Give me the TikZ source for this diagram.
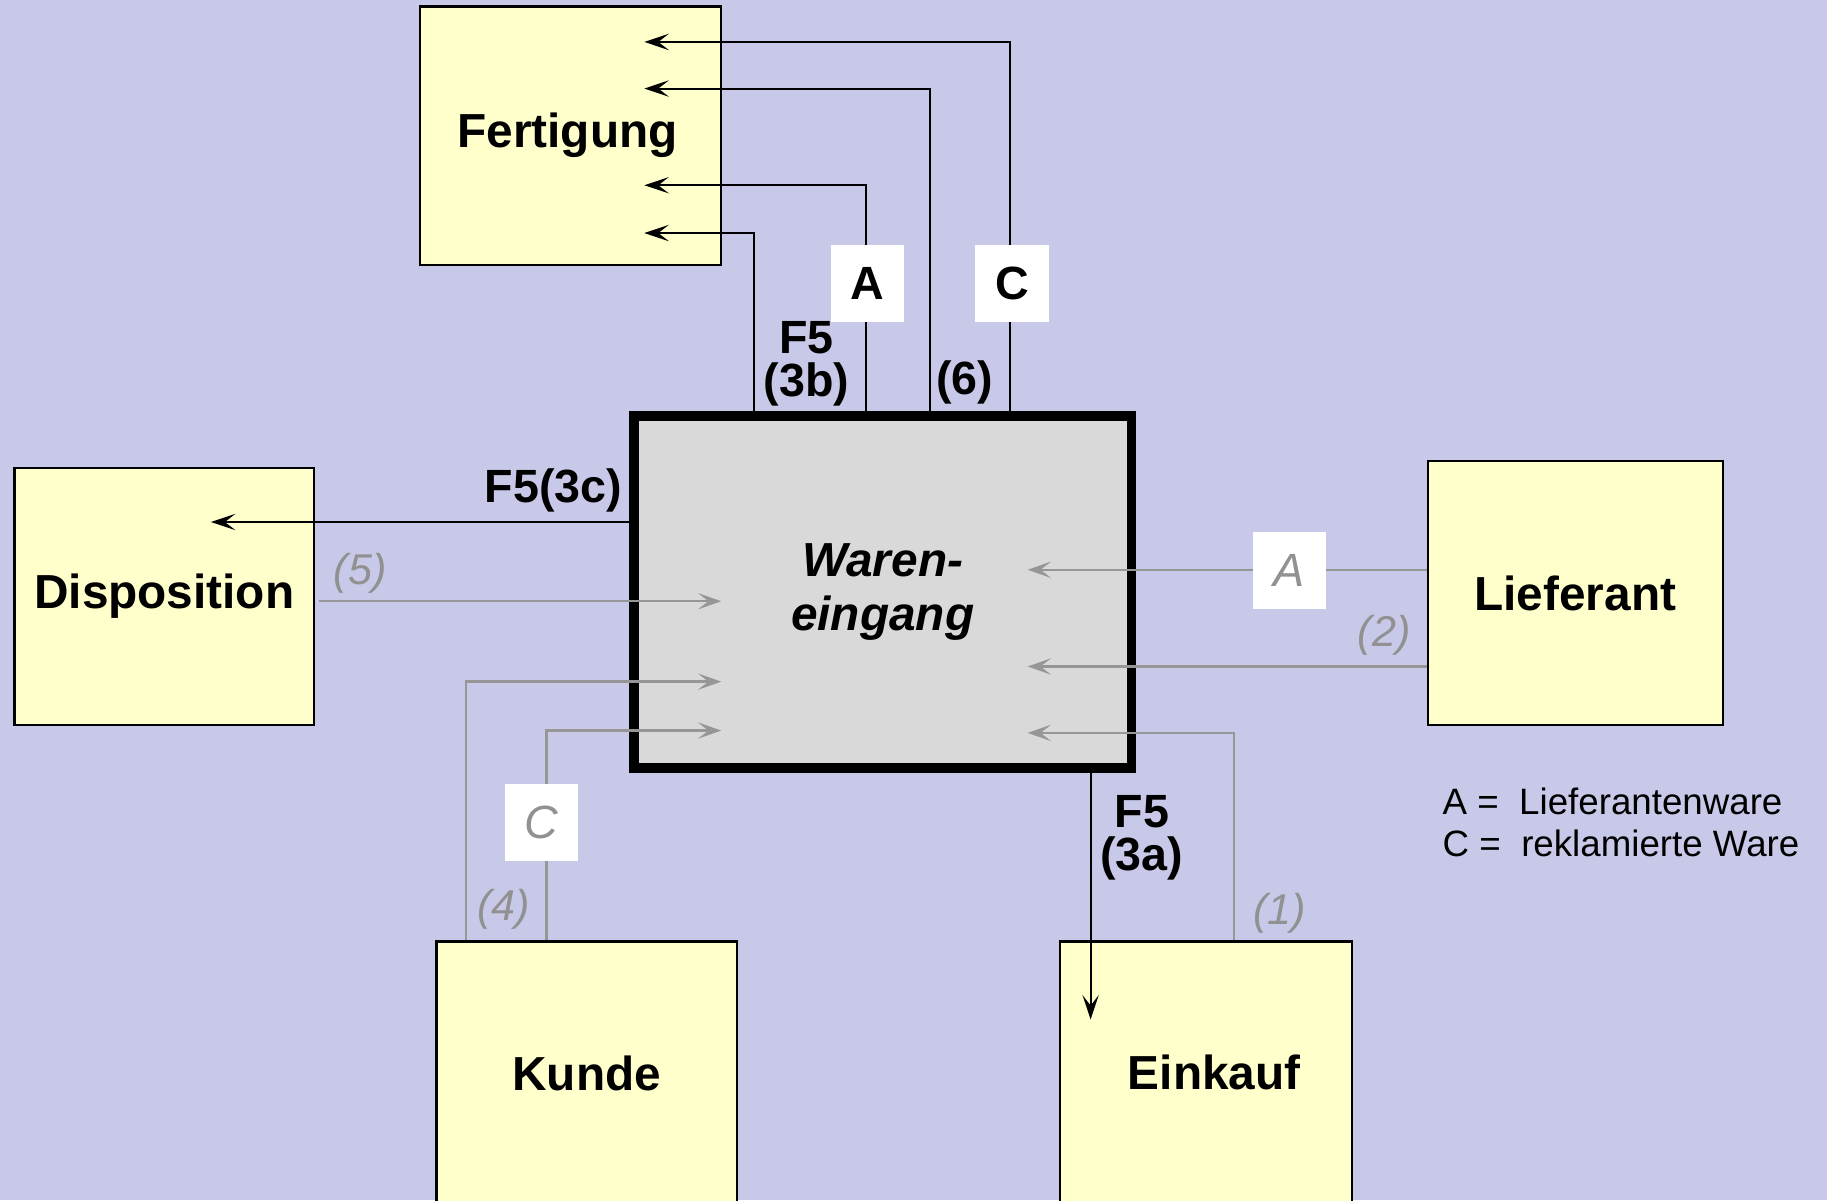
\documentclass[tikz,border=0pt]{standalone}
\usepackage{fontspec}
\setmainfont{Liberation Sans}
\usetikzlibrary{arrows.meta}
\definecolor{bg}{RGB}{200,201,232}
\definecolor{boxy}{RGB}{255,255,204}
\definecolor{wgray}{RGB}{217,217,217}
\definecolor{lg}{RGB}{150,150,150}
\definecolor{lgt}{RGB}{145,145,145}
\begin{document}
\begin{tikzpicture}[x=1pt,y=-1pt,
  box/.style={draw=black,line width=2pt,fill=boxy,inner sep=0pt,
    font=\fontsize{41}{46}\selectfont\bfseries},
  blk/.style={draw=black,line width=1.8pt,-{Stealth[length=21pt,width=14pt,inset=9pt]}},
  gry/.style={draw=lg,line width=2pt,-{Stealth[length=20pt,width=14pt,inset=9pt]}},
  lab/.style={inner sep=0pt,align=center,font=\fontsize{40}{37}\selectfont\bfseries},
  glab/.style={inner sep=0pt,text=lgt,font=\fontsize{37}{40}\selectfont\itshape},
  tag/.style={fill=white,inner sep=0pt,minimum width=63pt,minimum height=66pt}]
\clip (0,0) rectangle (1568,1030);
\fill[bg] (0,0) rectangle (1568,1030);

% boxes
\node[box,minimum width=258pt,minimum height=222pt] (fert) at (489.5,116.5) {};
\node[inner sep=0pt,font=\fontsize{41}{46}\selectfont\bfseries] (fertt) at (487,116.5) {Fertigung};
\node[box,minimum width=257pt,minimum height=221pt] (disp) at (141,512) {Disposition};
\node[box,minimum width=253pt,minimum height=227pt] (lief) at (1352,509) {Lieferant};
\node[box,minimum width=258pt,minimum height=226pt] (kunde) at (503.5,921) {Kunde};
\node[box,minimum width=251pt,minimum height=226pt] (eink) at (1035,921) {};
\node[inner sep=0pt,font=\fontsize{41}{46}\selectfont\bfseries] (einkt) at (1042,920) {Einkauf};
\node[draw=black,line width=8pt,fill=wgray,minimum width=427pt,minimum height=302pt,
  align=center,font=\fontsize{41}{47}\selectfont\bfseries\itshape] (waren) at (757.5,508) {Waren-\\eingang};

% helper coordinates
\coordinate (c647) at (647,0);
\coordinate (c743) at (743,0);
\coordinate (c798) at (798,0);
\coordinate (c867) at (867,0);
\coordinate (c936) at (936,0);
\coordinate (c400) at (400,0);
\coordinate (c469) at (469,0);
\coordinate (c1059) at (1059,0);
\coordinate (t1) at (553,200);
\coordinate (t2) at (553,159);
\coordinate (t3) at (553,76);
\coordinate (t4) at (553,36);
\coordinate (t5) at (181,448);
\coordinate (t6) at (936,875);
\coordinate (g5) at (619,516);
\coordinate (g4) at (619,585);
\coordinate (g3) at (619,627);
\coordinate (g1) at (882,629);
\coordinate (gA) at (882,489);
\coordinate (g2) at (882,572);

% black connectors
\draw[blk] (waren.north -| c647) |- (t1);
\draw[blk] (waren.north -| c743) |- (t2);
\draw[blk] (waren.north -| c798) |- (t3);
\draw[blk] (waren.north -| c867) |- (t4);
\draw[blk] (waren.west |- t5) -- (t5);
\draw[blk] (waren.south -| c936) -- (t6);

% gray connectors
\draw[gry] ([xshift=3pt]disp.east |- g5) -- (g5);
\draw[gry] (kunde.north -| c400) |- (g4);
\draw[gry] (kunde.north -| c469) |- (g3);
\draw[gry] (eink.north -| c1059) |- (g1);
\draw[gry] (lief.west |- gA) -- (gA);
\draw[gry] (lief.west |- g2) -- (g2);

% tags
\node[tag,font=\fontsize{40}{40}\selectfont\bfseries] (tA) at (744.5,243) {A};
\node[tag,font=\fontsize{40}{40}\selectfont\bfseries] (tC) at (868.5,243) {C};
\node[tag,text=lgt,font=\fontsize{40}{40}\selectfont\itshape] (tgC) at (464.5,706) {C};
\node[tag,text=lgt,font=\fontsize{40}{40}\selectfont\itshape] (tgA) at (1106.5,490) {A};

% labels
\node[lab] (l3b) at (692,312) {F5\\(3b)};
\node[lab] (l6) at (828,328) {(6)};
\node[lab] (l3c) at (475,421) {F5(3c)};
\node[lab] (l3a) at (980,719) {F5\\(3a)};
\node[glab] (l5) at (309,492) {(5)};
\node[glab] (l4) at (432,780) {(4)};
\node[glab] (l1) at (1098,784) {(1)};
\node[glab] (l2) at (1188,545) {(2)};

% legend
\node[anchor=west,inner sep=0pt,align=left,font=\fontsize{31.5}{36}\selectfont] (leg) at (1238,706)
  {A =\ \ Lieferantenware\\C =\ \ reklamierte Ware};
\end{tikzpicture}
\end{document}
